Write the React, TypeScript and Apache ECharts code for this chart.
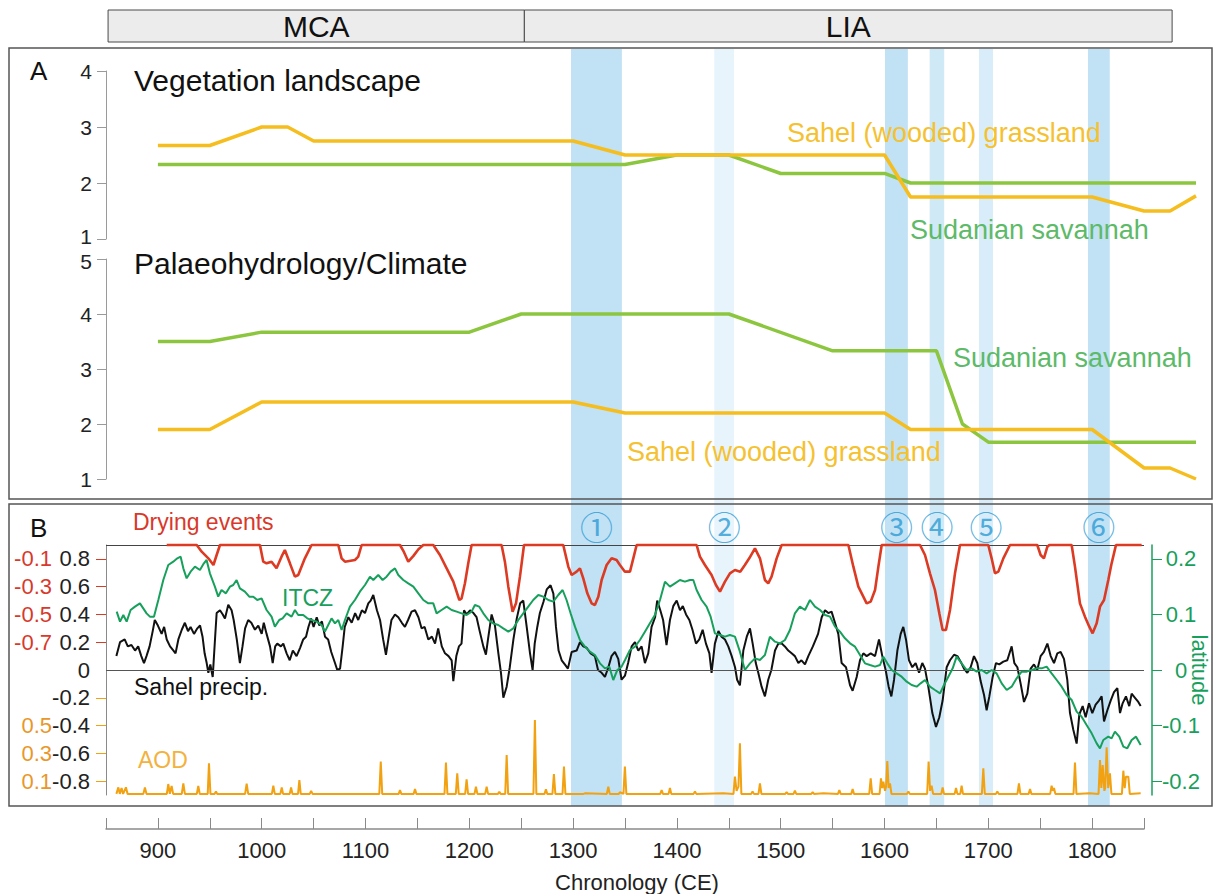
import React, { useEffect, useRef } from 'react';
import * as echarts from 'echarts';

const FONT = "'Liberation Sans', Arial, Helvetica, sans-serif";

// ---- Periods (header bar) ----
const periodNames = ['MCA', 'LIA'];
const periodStart = [852, 1253];
const periodEnd = [1253, 1877];

// ---- Highlighted drying bands ----
const bandStart = [1298, 1436, 1600.5, 1643.5, 1691, 1796];
const bandEnd = [1347, 1455, 1622.5, 1657.5, 1704.5, 1817];
const bandShade = ['dark', 'pale', 'dark', 'mid', 'light', 'dark'];
const bandLabels = ['①', '②', '③', '④', '⑤', '⑥'];

// ---- Axis ticks ----
const xTicks = [850, 900, 950, 1000, 1050, 1100, 1150, 1200, 1250, 1300, 1350, 1400, 1450, 1500, 1550, 1600, 1650, 1700, 1750, 1800, 1850];
const xLabels = [900, 1000, 1100, 1200, 1300, 1400, 1500, 1600, 1700, 1800];
const precipTicks = [-0.8, -0.6, -0.4, -0.2, 0, 0.2, 0.4, 0.6, 0.8];
const dryingTicks = [-0.1, -0.3, -0.5, -0.7];
const aodTicks = [0.1, 0.3, 0.5, 0.7];
const aodLabels = [0.1, 0.3, 0.5];
const latTicks = [-0.2, -0.1, 0, 0.1, 0.2];

// ---- Panel A: vegetation landscape ----
const vegSahel = [[900, 2.67], [950, 2.67], [1000, 3.0], [1025, 3.0], [1050, 2.75], [1300, 2.75], [1350, 2.5], [1600, 2.5], [1625, 1.75], [1800, 1.75], [1850, 1.5], [1875, 1.5], [1900, 1.77]];
const vegSudan = [[900, 2.33], [1350, 2.33], [1400, 2.5], [1450, 2.5], [1500, 2.17], [1600, 2.17], [1625, 2.0], [1900, 2.0]];

// ---- Panel A: palaeohydrology / climate ----
const palSudan = [[900, 3.5], [950, 3.5], [1000, 3.67], [1200, 3.67], [1250, 4.0], [1450, 4.0], [1550, 3.33], [1650, 3.33], [1675, 2.0], [1700, 1.67], [1900, 1.67]];
const palSahel = [[900, 1.9], [950, 1.9], [1000, 2.4], [1300, 2.4], [1350, 2.2], [1600, 2.2], [1625, 1.9], [1800, 1.9], [1850, 1.2], [1875, 1.2], [1900, 1.0]];

// ---- Panel B: Sahel precipitation ----
const precip = [
  [860, 0.10], [863.5, 0.20], [868, 0.22], [871, 0.17], [874.5, 0.18], [878, 0.14], [881, 0.17], [884, 0.10], [886.6, 0.05], [889, 0.10],
  [892, 0.17], [895, 0.28], [897, 0.36], [900, 0.32], [903.6, 0.26], [906, 0.31], [908.5, 0.22], [911.7, 0.17], [915, 0.14], [917, 0.12],
  [919.7, 0.22], [923, 0.29], [926, 0.34], [929, 0.28], [931.5, 0.31], [934.8, 0.26], [938, 0.30], [940.6, 0.32], [943, 0.24], [945, 0.12],
  [947, 0.05], [948.6, -0.02], [950.5, 0.04], [952.8, -0.05], [955, 0.22], [956.6, 0.41], [959.8, 0.43], [962.5, 0.40], [964.6, 0.37], [967.8, 0.47],
  [971, 0.43], [973, 0.36], [976, 0.22], [979, 0.05], [981.5, 0.17], [984, 0.30], [987, 0.36], [990, 0.34], [993.5, 0.29], [996.7, 0.32],
  [1000, 0.26], [1002, 0.34], [1004.7, 0.26], [1008, 0.17], [1010.6, 0.05], [1013, 0.17], [1015, 0.19], [1018.5, 0.17], [1020.8, 0.19], [1024, 0.12],
  [1027, 0.07], [1030, 0.14], [1033.6, 0.10], [1037, 0.16], [1040, 0.22], [1042.7, 0.24], [1045, 0.31], [1047.6, 0.37], [1050, 0.31], [1053, 0.38],
  [1055.5, 0.32], [1058, 0.35], [1061, 0.24], [1064, 0.22], [1067, 0.13], [1070.6, 0.05], [1072.8, 0], [1075.5, 0.01], [1078, 0.17], [1080, 0.31],
  [1083.5, 0.38], [1086.7, 0.34], [1090, 0.41], [1093, 0.36], [1096.5, 0.43], [1099.5, 0.41], [1102.7, 0.48], [1105, 0.50], [1107.5, 0.54], [1111, 0.43],
  [1114, 0.36], [1117, 0.22], [1119.7, 0.11], [1122, 0.22], [1125, 0.36], [1128.4, 0.40], [1131.6, 0.38], [1135, 0.34], [1138, 0.31], [1141, 0.36],
  [1144.4, 0.42], [1147.7, 0.43], [1151, 0.38], [1154, 0.30], [1157, 0.31], [1160.5, 0.22], [1164, 0.24], [1167, 0.19], [1170, 0.30], [1173.5, 0.17],
  [1176.6, 0.12], [1180, 0.10], [1183, 0.07], [1184.6, -0.08], [1187.5, 0.10], [1190, 0.17], [1192.5, 0.19], [1194.9, 0.43], [1197.5, 0.40], [1200.7, 0.43],
  [1204, 0.41], [1207, 0.38], [1210, 0.28], [1213.5, 0.17], [1216, 0.11], [1218, 0.22], [1221.5, 0.40], [1224.7, 0.32], [1228, 0.12], [1230.5, -0.02],
  [1232.8, -0.20], [1236, -0.12], [1239, 0.02], [1242.5, 0.22], [1245.7, 0.37], [1249, 0.48], [1252, 0.50], [1255.3, 0.31], [1258.5, 0.12], [1261, 0],
  [1263, 0.19], [1265.5, 0.31], [1268, 0.41], [1271.4, 0.49], [1274.6, 0.58], [1278.3, 0.61], [1281, 0.55], [1283.5, 0.31], [1286, 0.14], [1289, 0.07],
  [1292, 0.04], [1295, 0.01], [1298.6, 0.13], [1303.4, 0.14], [1306.6, 0.20], [1309.8, 0.17], [1313, 0.16], [1316.9, 0.12], [1321, 0.10], [1324, 0],
  [1327.5, -0.02], [1330.7, -0.05], [1334, 0.02], [1337, 0.10], [1340.3, 0.13], [1343.5, 0.08], [1346.7, -0.07], [1350, -0.04], [1353, 0.05], [1356.4, 0.17],
  [1359.6, 0.20], [1362.8, 0.14], [1366, 0.17], [1369.2, 0.05], [1372.4, 0.12], [1375.6, 0.31], [1379, 0.38], [1381, 0.50], [1384, 0.43], [1386.7, 0.36],
  [1390, 0.18], [1393.3, 0.36], [1396.5, 0.46], [1399.8, 0.50], [1403, 0.43], [1405.7, 0.46], [1408.8, 0.40], [1412, 0.36], [1415, 0.29], [1418.4, 0.19],
  [1421.6, 0.22], [1424.8, 0.29], [1428, 0.19], [1431.3, 0.12], [1433.4, -0.02], [1436.6, 0.19], [1440, 0.28], [1443, 0.24], [1446.3, 0.22], [1449.5, 0.17],
  [1452.8, 0.10], [1456, 0.02], [1458, -0.07], [1460.7, -0.11], [1464, 0.14], [1467.3, 0.24], [1470.4, 0.30], [1473, 0.19], [1476, 0.05], [1478.4, -0.02],
  [1481.6, -0.12], [1484.8, -0.19], [1488, -0.07], [1491, 0], [1494.5, 0.14], [1497.7, 0.19], [1501, 0.19], [1504, 0.17], [1507.3, 0.14], [1510.5, 0.12],
  [1513.7, 0.10], [1517, 0.05], [1520, 0.07], [1523.4, 0.04], [1526.6, 0.10], [1531, 0.17], [1536, 0.26], [1539.5, 0.38], [1542.7, 0.43], [1545.9, 0.41],
  [1549, 0.42], [1552.3, 0.34], [1555.5, 0.26], [1558.7, 0.05], [1562.9, 0.02], [1566.8, -0.11], [1569.3, -0.15], [1573.2, -0.05], [1576.4, 0.07], [1579.6, 0.12],
  [1582.8, 0.10], [1586.7, 0.12], [1590.9, 0.10], [1594.7, 0.22], [1597.9, 0.10], [1601.1, 0], [1604, -0.12], [1606.6, -0.19], [1609.2, -0.07], [1612.4, 0.14],
  [1615.6, 0.26], [1618.1, 0.31], [1620.7, 0.22], [1623.6, 0.07], [1626.8, 0.02], [1630, 0.05], [1633.3, -0.02], [1636.4, 0.05], [1639, 0.01], [1642.2, -0.12],
  [1646.1, -0.31], [1649.6, -0.41], [1652.8, -0.34], [1656, -0.22], [1659.9, 0.02], [1663.1, 0.07], [1667, 0.11], [1670.2, 0.10], [1673.4, 0.06], [1676.6, 0.01],
  [1679.8, -0.02], [1683, 0.02], [1686.2, 0.10], [1689.4, 0.05], [1692.6, -0.08], [1695.9, -0.18], [1698.4, -0.29], [1701, -0.19], [1704.2, -0.05], [1707.4, 0.05],
  [1710.6, 0.04], [1714.5, 0.06], [1718.3, 0.07], [1722.5, 0.17], [1725.1, 0.05], [1728, 0.02], [1731.2, -0.10], [1734.4, -0.23], [1737.6, -0.17], [1740.8, 0.01],
  [1744, 0.04], [1747.2, 0], [1750.4, 0.10], [1753.6, 0.13], [1756.9, 0.19], [1760.1, 0.10], [1763.3, 0.05], [1766.5, 0.12], [1769.7, 0.13], [1772.9, 0.08],
  [1776.1, -0.07], [1778.7, -0.31], [1781.9, -0.43], [1785.1, -0.53], [1787.7, -0.32], [1790.9, -0.26], [1793.8, -0.34], [1797, -0.24], [1800.2, -0.31], [1803.4, -0.25],
  [1806.6, -0.22], [1809.2, -0.19], [1811.5, -0.37], [1814.7, -0.29], [1817.9, -0.22], [1821.1, -0.16], [1824.3, -0.13], [1826.9, -0.31], [1829.4, -0.24], [1832.6, -0.19],
  [1835.8, -0.26], [1838.1, -0.17], [1841.3, -0.20], [1844.5, -0.23], [1846.8, -0.26]
];

// ---- Panel B: ITCZ latitude ----
const itcz = [
  [860.3, 0.105], [863.5, 0.087], [866.7, 0.099], [869.9, 0.087], [873.7, 0.108], [877.9, 0.114], [882.7, 0.12], [885.9, 0.111], [889.1, 0.102], [892.3, 0.096],
  [896.2, 0.096], [900.4, 0.126], [905.2, 0.162], [910, 0.189], [914.8, 0.195], [918.7, 0.201], [921.9, 0.204], [924.5, 0.183], [927.7, 0.165], [931.5, 0.177],
  [935.7, 0.186], [940.5, 0.18], [944.3, 0.192], [946.9, 0.198], [950.1, 0.174], [954.9, 0.15], [958.1, 0.132], [961.3, 0.144], [965.5, 0.138], [969.4, 0.15],
  [972.6, 0.153], [975.8, 0.162], [979, 0.147], [983.8, 0.141], [988, 0.132], [991.9, 0.132], [995.7, 0.126], [999.9, 0.129], [1004.7, 0.108], [1009.5, 0.096],
  [1012.7, 0.078], [1016.9, 0.09], [1020.1, 0.093], [1024, 0.102], [1028.8, 0.096], [1032, 0.108], [1035.2, 0.099], [1040, 0.099], [1043.9, 0.093], [1048, 0.09],
  [1052.9, 0.087], [1057.7, 0.081], [1060.9, 0.069], [1064.1, 0.081], [1067.3, 0.093], [1070.6, 0.084], [1073.8, 0.09], [1077, 0.072], [1080.2, 0.09], [1085, 0.114],
  [1089.8, 0.126], [1094.6, 0.141], [1099.5, 0.153], [1104.3, 0.168], [1107.5, 0.162], [1112.3, 0.171], [1116.5, 0.162], [1120.3, 0.168], [1124.2, 0.177], [1128.4, 0.183],
  [1131.6, 0.171], [1136.4, 0.162], [1141.2, 0.156], [1146.1, 0.15], [1150.9, 0.138], [1155.7, 0.126], [1160.5, 0.12], [1165.3, 0.12], [1168.5, 0.102], [1173.3, 0.108],
  [1178.2, 0.114], [1183, 0.108], [1187.8, 0.105], [1192.6, 0.102], [1197.4, 0.099], [1202.2, 0.105], [1205.4, 0.117], [1209.6, 0.114], [1213.5, 0.102], [1218.3, 0.09],
  [1223.1, 0.084], [1227.9, 0.081], [1232.7, 0.075], [1237.6, 0.069], [1242.4, 0.075], [1247.2, 0.09], [1252, 0.102], [1256.8, 0.114], [1261.6, 0.126], [1266.5, 0.135],
  [1271.3, 0.132], [1276.1, 0.126], [1280.9, 0.123], [1285.7, 0.135], [1289.9, 0.144], [1293.7, 0.126], [1297.6, 0.102], [1301.8, 0.078], [1306.6, 0.054], [1311.4, 0.042],
  [1316.2, 0.033], [1321, 0.027], [1325.9, 0.012], [1330.7, 0.003], [1334.9, 0.006], [1338.7, -0.018], [1342.6, 0], [1346.7, 0.006], [1350, 0.018], [1354.8, 0.036],
  [1359.6, 0.042], [1364.4, 0.054], [1369.2, 0.069], [1374, 0.084], [1378.8, 0.099], [1383.7, 0.126], [1388.5, 0.159], [1393.3, 0.15], [1398.1, 0.156], [1402.9, 0.162],
  [1407.7, 0.159], [1412.6, 0.162], [1415.8, 0.162], [1419, 0.144], [1423.8, 0.126], [1428.6, 0.114], [1432.5, 0.096], [1436.6, 0.066], [1441.5, 0.063], [1446.3, 0.06],
  [1451.1, 0.063], [1455.9, 0.06], [1460.7, 0.033], [1465.5, 0], [1470.4, 0.012], [1475.2, 0.021], [1480, 0.018], [1484.8, 0.027], [1489.6, 0.06], [1494.5, 0.051],
  [1499.3, 0.048], [1504.1, 0.054], [1508.9, 0.072], [1513.7, 0.102], [1518.5, 0.114], [1523.4, 0.108], [1528.2, 0.126], [1533, 0.114], [1537.9, 0.108], [1542.7, 0.099],
  [1547.5, 0.096], [1552.3, 0.078], [1557.1, 0.069], [1561.9, 0.057], [1566.8, 0.048], [1571.6, 0.042], [1576.4, 0.027], [1581.2, 0.012], [1586, 0.009], [1590.9, 0.006],
  [1595.7, 0.009], [1598.9, 0.024], [1602.7, 0.012], [1606.9, 0], [1611.7, -0.006], [1616.5, -0.012], [1621.4, -0.021], [1626.2, -0.027], [1631, -0.03], [1634.8, -0.024],
  [1639, -0.018], [1643.8, -0.03], [1648.6, -0.036], [1653.5, -0.042], [1657.3, -0.027], [1661.5, -0.012], [1665.7, 0.003], [1669.5, 0.024], [1674.3, 0.012], [1679.1, 0],
  [1684, 0.003], [1688.8, -0.003], [1693.6, 0], [1698.4, -0.006], [1703.2, 0], [1708, -0.006], [1712.9, -0.024], [1717.7, -0.036], [1722.5, -0.03], [1727.3, -0.015],
  [1732.1, -0.003], [1737, -0.003], [1741.8, 0], [1746.6, 0.003], [1751.4, 0.003], [1756.2, 0.006], [1761, -0.006], [1765.9, -0.018], [1770.7, -0.03], [1775.5, -0.045],
  [1780.3, -0.054], [1785.1, -0.075], [1789.9, -0.084], [1794.7, -0.099], [1799.6, -0.114], [1804.4, -0.132], [1807.6, -0.141], [1810.8, -0.126], [1815.6, -0.12], [1818.8, -0.123],
  [1822, -0.111], [1826.2, -0.12], [1830.1, -0.138], [1833.9, -0.141], [1838.1, -0.126], [1842.3, -0.12], [1846.8, -0.135]
];

// ---- Panel B: drying events ----
const drying = [
  [908.5, 0], [937.4, 0], [942.2, -0.048], [948.6, -0.096], [953.5, -0.144], [956.6, -0.072], [959.8, 0], [998.3, 0], [1001.5, -0.12], [1004.7, -0.132],
  [1009.5, -0.12], [1014.3, -0.168], [1019.1, -0.084], [1022.3, -0.036], [1027.2, -0.132], [1032, -0.228], [1035.2, -0.216], [1041.6, -0.096], [1048, 0], [1073.8, 0],
  [1077, -0.096], [1080.2, -0.12], [1089.8, -0.108], [1093, -0.084], [1096.3, 0], [1133.2, 0], [1137, -0.05], [1141.2, -0.12], [1146, -0.08], [1151, -0.03],
  [1155.7, 0], [1165.3, 0], [1171.7, -0.072], [1178.2, -0.168], [1184.6, -0.264], [1190.4, -0.396], [1192.6, -0.384], [1195.8, -0.276], [1199, -0.132], [1202.2, 0],
  [1231.1, 0], [1234.3, -0.12], [1237.6, -0.3], [1241.7, -0.48], [1245, -0.42], [1248.8, -0.228], [1252.7, 0], [1290.5, 0], [1295.4, -0.156], [1298.6, -0.216],
  [1303.4, -0.192], [1306.6, -0.168], [1309.8, -0.24], [1313.7, -0.348], [1317.8, -0.42], [1321, -0.432], [1324.3, -0.372], [1327.5, -0.252], [1332.3, -0.144], [1337.1, -0.096],
  [1341.9, -0.108], [1345.1, -0.144], [1349.9, -0.192], [1354.8, -0.192], [1358, -0.096], [1361.2, 0], [1419, 0], [1422.2, -0.084], [1427, -0.144], [1433.4, -0.216],
  [1437.6, -0.288], [1441.5, -0.336], [1446.3, -0.264], [1451.1, -0.204], [1455.9, -0.18], [1461, -0.192], [1465.5, -0.144], [1469.7, -0.096], [1475.2, -0.024], [1480, -0.096],
  [1484.8, -0.252], [1488, -0.276], [1491.2, -0.228], [1496.1, -0.096], [1500.9, 0], [1565.2, 0], [1570, -0.156], [1574.8, -0.3], [1579.6, -0.372], [1582.8, -0.42],
  [1586.7, -0.408], [1590.9, -0.324], [1594.1, -0.156], [1597.3, 0], [1634.2, 0], [1639, -0.072], [1643.8, -0.204], [1648.6, -0.324], [1652.8, -0.492], [1656, -0.612],
  [1659.2, -0.612], [1663.1, -0.468], [1667.9, -0.204], [1672.7, 0], [1700, 0], [1703.2, -0.096], [1706.4, -0.204], [1709.7, -0.192], [1714.5, -0.096], [1720.9, 0],
  [1747.2, 0], [1750.4, -0.072], [1753.6, -0.096], [1756.9, -0.012], [1758.8, 0], [1780.3, 0], [1783.5, -0.156], [1788.3, -0.42], [1793.1, -0.516], [1797.3, -0.588],
  [1800.5, -0.636], [1804.4, -0.564], [1807.6, -0.444], [1811.5, -0.396], [1815.6, -0.252], [1818.8, -0.132], [1823, 0], [1847.7, 0]
];

// ---- Panel B: aerosol optical depth ----
const aod = [
  [860, 0.008], [861.9, 0.055], [863.3, 0.008], [865, 0.05], [866.5, 0.008], [869.2, 0.055], [870.8, 0.008], [886, 0.008], [887.5, 0.055], [889, 0.008],
  [908.6, 0.008], [910, 0.079], [911.5, 0.008], [913.2, 0.065], [914.7, 0.008], [923, 0.008], [924.5, 0.084], [926, 0.008], [937.5, 0.008], [938.9, 0.065],
  [940.3, 0.008], [948, 0.008], [949.2, 0.228], [950.6, 0.008], [954.6, 0.008], [955.9, 0.025], [957.2, 0.008], [984, 0.008], [985.5, 0.082], [987, 0.008],
  [1009.8, 0.008], [1011.2, 0.067], [1012.6, 0.008], [1018, 0.008], [1019.3, 0.055], [1020.6, 0.008], [1027, 0.008], [1028.3, 0.055], [1029.6, 0.008], [1035, 0.008],
  [1036.3, 0.108], [1037.6, 0.008], [1046.3, 0.008], [1047.6, 0.03], [1049, 0.008], [1113.3, 0.008], [1114.7, 0.24], [1116.1, 0.008], [1132, 0.008], [1133.2, 0.036],
  [1134.5, 0.008], [1146.4, 0.008], [1147.7, 0.043], [1149, 0.008], [1176.1, 0.008], [1177.5, 0.233], [1178.9, 0.008], [1187, 0.008], [1188.4, 0.156], [1189.8, 0.008],
  [1196, 0.008], [1197.4, 0.113], [1198.8, 0.008], [1205, 0.008], [1206.4, 0.06], [1207.8, 0.008], [1215.3, 0.008], [1216.7, 0.06], [1218.1, 0.008], [1227.6, 0.008],
  [1228.9, 0.024], [1230.2, 0.008], [1234.6, 0.008], [1236, 0.288], [1237.4, 0.008], [1261.8, 0.008], [1263.2, 0.54], [1264.6, 0.008], [1272.5, 0.008], [1273.8, 0.041],
  [1275.1, 0.008], [1280.1, 0.008], [1281.5, 0.151], [1282.9, 0.008], [1289.8, 0.008], [1291.2, 0.204], [1292.6, 0.008], [1310, 0.008], [1311.4, 0.012], [1332.5, 0.008],
  [1333.9, 0.06], [1335.3, 0.008], [1344, 0.008], [1345.1, 0.02], [1348.5, 0.008], [1349.9, 0.204], [1351.3, 0.008], [1384, 0.008], [1385.3, 0.036], [1386.6, 0.008],
  [1392, 0.008], [1393.3, 0.05], [1394.6, 0.008], [1416.1, 0.008], [1417.4, 0.026], [1418.7, 0.008], [1444.7, 0.012], [1454.5, 0.008], [1455.9, 0.132], [1457.5, 0.03],
  [1459.3, 0.06], [1460.7, 0.372], [1462.1, 0.008], [1471.6, 0.008], [1472.9, 0.026], [1474.2, 0.008], [1478.6, 0.008], [1480, 0.084], [1481.4, 0.008], [1504.4, 0.008],
  [1505.7, 0.02], [1507, 0.008], [1512.4, 0.008], [1513.7, 0.031], [1515, 0.008], [1529.5, 0.008], [1530.8, 0.02], [1532.1, 0.008], [1541, 0.012], [1555.2, 0.008],
  [1556.5, 0.036], [1557.8, 0.008], [1568, 0.008], [1569.3, 0.043], [1570.6, 0.008], [1585.3, 0.008], [1586.7, 0.12], [1588.1, 0.008], [1595.3, 0.008], [1596.6, 0.12],
  [1597.8, 0.05], [1598.9, 0.096], [1600.5, 0.03], [1601.5, 0.06], [1602.7, 0.245], [1604, 0.05], [1605.3, 0.084], [1606.7, 0.008], [1621.7, 0.008], [1623, 0.026],
  [1624.3, 0.008], [1641.1, 0.008], [1642.5, 0.24], [1643.9, 0.03], [1645.4, 0.067], [1646.8, 0.008], [1654.7, 0.008], [1656, 0.055], [1657.3, 0.008], [1667.6, 0.008],
  [1668.9, 0.05], [1670.2, 0.008], [1673, 0.008], [1674.3, 0.067], [1675.6, 0.008], [1693.8, 0.008], [1695.2, 0.192], [1696.6, 0.008], [1707.4, 0.008], [1708.7, 0.026],
  [1710, 0.008], [1728.1, 0.008], [1729.5, 0.084], [1730.9, 0.008], [1738.9, 0.008], [1740.2, 0.043], [1741.5, 0.008], [1759.6, 0.008], [1761, 0.067], [1762.2, 0.03],
  [1763.3, 0.05], [1764.6, 0.008], [1782.1, 0.008], [1783.5, 0.233], [1784.9, 0.008], [1797.4, 0.012], [1806.2, 0.008], [1807.6, 0.252], [1808.9, 0.05], [1810.2, 0.216],
  [1811.8, 0.03], [1812.6, 0.05], [1814, 0.343], [1815.5, 0.05], [1817.2, 0.156], [1818.6, 0.008], [1828.7, 0.008], [1830.1, 0.175], [1831.4, 0.05], [1832.6, 0.132],
  [1834.9, 0.132], [1836.3, 0.008], [1846.8, 0.012]
];

// ---- styles ----
const SHADE_COLORS: Record<string, string> = { dark: '#c1e1f4', mid: '#d0e9f7', light: '#d8edf9', pale: '#e8f4fc' };
const YELLOW = '#f5bd1e';
const YELLOW_TEXT = '#f5c131';
const GREEN_A = '#8cc63f';
const GREEN_TEXT = '#5dba68';
const ITCZ_C = '#17a05c';
const RED = '#dc3a22';
const RED_TEXT = '#d8392b';
const AOD_C = '#f2a110';
const AOD_TEXT = '#f3b23e';
const AOD_AXIS = '#e9972a';
const BLUE = '#2a9bd4';
const NUM_LEVEL = 0.37;

function txt(text: string, x: number, y: number, size: number, color: string, extra: any = {}) {
  return {
    type: 'text', x, y, z: 20,
    style: { text, fill: color, fontSize: size, fontFamily: FONT, verticalAlign: 'middle', align: 'left', ...extra },
  };
}

export default function App() {
  const ref = useRef<HTMLDivElement>(null);
  useEffect(() => {
    if (!ref.current) return;
    const chart = echarts.init(ref.current, null, { renderer: 'svg' });

    const gridBase = { outerBoundsMode: 'none', containLabel: false };
    const hiddenX = (gi: number, max: number) => ({ type: 'value', gridIndex: gi, min: 850, max, show: false });
    const hiddenY = (gi: number) => ({ type: 'value', gridIndex: gi, min: 0, max: 1, show: false });
    // edge: value whose label is nudged away from the neighbouring panel; shift: 'up' | 'down'
    const aAxis = (gi: number, max: number, edge: number, shift: string) => ({
      type: 'value', gridIndex: gi, min: 1, max, interval: 1, position: 'left',
      axisLine: { show: true, onZero: false, lineStyle: { color: '#9a9a9a', width: 1 } },
      axisTick: { show: true, length: 9, lineStyle: { color: '#9a9a9a' } },
      axisLabel: {
        color: '#222', fontSize: 21, lineHeight: 16, fontFamily: FONT, margin: 14,
        formatter: (v: number) => (v === edge ? `{e|${v}}` : String(v)),
        rich: {
          e: {
            color: '#222', fontSize: 21, lineHeight: 16, fontFamily: FONT,
            padding: shift === 'up' ? [0, 0, 6, 0] : [4, 0, 0, 0],
          },
        },
      },
      splitLine: { show: false },
    });

    const option: any = {
      animation: false,
      backgroundColor: '#ffffff',
      grid: [
        { ...gridBase, left: 106, right: 18, top: 10, height: 32 },
        { ...gridBase, left: 106, right: 70, top: 49, height: 757 },
        { ...gridBase, left: 106, right: 18, top: 71, height: 168 },
        { ...gridBase, left: 106, right: 18, top: 259, height: 220 },
        { ...gridBase, left: 106, right: 70, top: 545, height: 250 },
      ],
      xAxis: [
        hiddenX(0, 1900),
        hiddenX(1, 1850),
        hiddenX(2, 1900),
        hiddenX(3, 1900),
        {
          type: 'value', gridIndex: 4, min: 850, max: 1850, interval: 50, position: 'bottom', offset: 34,
          name: 'Chronology (CE)', nameLocation: 'middle', nameGap: 42,
          nameTextStyle: { color: '#222', fontSize: 22, fontFamily: FONT, padding: [0, 0, 0, 24] },
          axisLine: { show: true, onZero: false, lineStyle: { color: '#8a8a8a', width: 1.5 } },
          axisTick: { show: true, inside: true, length: 11, customValues: xTicks, lineStyle: { color: '#8a8a8a' } },
          axisLabel: { color: '#222', fontSize: 22, fontFamily: FONT, margin: 10, customValues: xLabels, formatter: (v: number) => String(v) },
          splitLine: { show: false },
        },
      ],
      yAxis: [
        hiddenY(0),
        hiddenY(1),
        aAxis(2, 4, 1, 'up'),
        aAxis(3, 5, 5, 'down'),
        {
          type: 'value', gridIndex: 4, min: -0.9, max: 0.9, position: 'left',
          axisLine: { show: true, onZero: false, lineStyle: { color: '#8a8a8a', width: 1 } },
          axisTick: { show: false },
          axisLabel: { color: '#222', fontSize: 22, fontFamily: FONT, margin: 16, customValues: precipTicks },
          splitLine: { show: false },
        },
        {
          type: 'value', gridIndex: 4, min: -1.8, max: 0, position: 'left',
          axisLine: { show: false, onZero: false },
          axisTick: { show: true, length: 10, customValues: dryingTicks, lineStyle: { color: RED } },
          axisLabel: { color: RED_TEXT, fontSize: 22, fontFamily: FONT, margin: 54, customValues: dryingTicks },
          splitLine: { show: false },
        },
        {
          type: 'value', gridIndex: 4, min: 0, max: 1.8, position: 'left',
          axisLine: { show: false, onZero: false },
          axisTick: { show: true, length: 10, customValues: aodTicks, lineStyle: { color: AOD_C } },
          axisLabel: { color: AOD_AXIS, fontSize: 22, fontFamily: FONT, margin: 54, customValues: aodLabels },
          splitLine: { show: false },
        },
        {
          type: 'value', gridIndex: 4, min: -0.225, max: 0.225, position: 'right', offset: 8,
          name: 'latitude', nameLocation: 'middle', nameRotate: -90, nameGap: 36, nameMoveOverlap: false,
          nameTextStyle: { color: ITCZ_C, fontSize: 22, fontFamily: FONT },
          axisLine: { show: true, onZero: false, lineStyle: { color: ITCZ_C, width: 1.5 } },
          axisTick: { show: true, length: 10, customValues: latTicks, lineStyle: { color: ITCZ_C } },
          axisLabel: { color: ITCZ_C, fontSize: 22, fontFamily: FONT, margin: 29, align: 'center', customValues: latTicks },
          splitLine: { show: false },
        },
      ],
      series: [
        {
          type: 'line', xAxisIndex: 0, yAxisIndex: 0, data: [], silent: true,
          markArea: {
            silent: true,
            label: { show: true, position: 'inside', color: '#111', fontSize: 30, fontFamily: FONT },
            itemStyle: { color: '#ececec', borderColor: '#4a4a4a', borderWidth: 1 },
            data: periodNames.map((n, i) => [{ name: n, xAxis: periodStart[i], yAxis: 0 }, { xAxis: periodEnd[i], yAxis: 1 }]),
          },
        },
        {
          type: 'line', xAxisIndex: 1, yAxisIndex: 1, data: [], silent: true, z: 1,
          markArea: {
            silent: true,
            label: { show: false },
            data: bandStart.map((s, i) => [
              { xAxis: s, yAxis: 0, itemStyle: { color: SHADE_COLORS[bandShade[i]] } },
              { xAxis: bandEnd[i], yAxis: 1 },
            ]),
          },
        },
        {
          type: 'scatter', xAxisIndex: 1, yAxisIndex: 1, silent: true, z: 6,
          symbolSize: 1, itemStyle: { color: 'rgba(0,0,0,0)' },
          label: { show: true, position: 'inside', formatter: '{b}', color: BLUE, fontSize: 33, fontFamily: "'Noto Sans CJK SC', 'DejaVu Sans', sans-serif" },
          data: bandStart.map((s, i) => ({ name: bandLabels[i], value: [(s + bandEnd[i]) / 2, NUM_LEVEL] })),
        },
        { type: 'line', xAxisIndex: 2, yAxisIndex: 2, data: vegSudan, symbol: 'none', lineStyle: { color: GREEN_A, width: 3.5 }, z: 3 },
        { type: 'line', xAxisIndex: 2, yAxisIndex: 2, data: vegSahel, symbol: 'none', lineStyle: { color: YELLOW, width: 3.5 }, z: 4 },
        { type: 'line', xAxisIndex: 3, yAxisIndex: 3, data: palSudan, symbol: 'none', lineStyle: { color: GREEN_A, width: 3.5 }, z: 3 },
        { type: 'line', xAxisIndex: 3, yAxisIndex: 3, data: palSahel, symbol: 'none', lineStyle: { color: YELLOW, width: 3.5 }, z: 4 },
        { type: 'line', xAxisIndex: 4, yAxisIndex: 6, data: aod, symbol: 'none', clip: false, lineStyle: { color: AOD_C, width: 2 }, z: 3 },
        {
          type: 'line', xAxisIndex: 4, yAxisIndex: 4, data: precip, symbol: 'none', clip: false, lineStyle: { color: '#111', width: 2 }, z: 4,
          markLine: { silent: true, symbol: 'none', label: { show: false }, lineStyle: { color: '#555', width: 1, type: 'solid' }, data: [{ yAxis: 0 }] },
        },
        { type: 'line', xAxisIndex: 4, yAxisIndex: 7, data: itcz, symbol: 'none', clip: false, lineStyle: { color: ITCZ_C, width: 2 }, z: 5 },
        {
          type: 'line', xAxisIndex: 4, yAxisIndex: 5, data: drying, symbol: 'none', clip: false, lineStyle: { color: RED, width: 2.6 }, z: 6,
          markLine: { silent: true, symbol: 'none', label: { show: false }, lineStyle: { color: '#444', width: 1, type: 'solid' }, data: [{ yAxis: 0 }] },
        },
      ],
      graphic: [
        { type: 'rect', z: 15, shape: { x: 9, y: 48, width: 1203, height: 451 }, style: { fill: 'none', stroke: '#555', lineWidth: 1.5 } },
        { type: 'rect', z: 15, shape: { x: 9, y: 504, width: 1203, height: 302 }, style: { fill: 'none', stroke: '#555', lineWidth: 1.5 } },
        txt('A', 30, 71, 26, '#111'),
        txt('Vegetation landscape', 134, 80.5, 30, '#111'),
        txt('Palaeohydrology/Climate', 134, 263, 30, '#111'),
        txt('Sahel (wooded) grassland', 787, 133, 27, YELLOW_TEXT),
        txt('Sudanian savannah', 910, 229.5, 27, GREEN_TEXT),
        txt('Sudanian savannah', 953, 358, 27, GREEN_TEXT),
        txt('Sahel (wooded) grassland', 627, 452, 27, YELLOW_TEXT),
        txt('B', 30, 528, 26, '#111'),
        txt('Drying events', 133, 522, 23, RED_TEXT),
        txt('ITCZ', 282, 598, 23, ITCZ_C),
        txt('Sahel precip.', 134, 687, 23, '#111'),
        txt('AOD', 138, 760, 23, AOD_TEXT),
      ],
    };
    chart.setOption(option);
    return () => chart.dispose();
  }, []);
  return <div ref={ref} style={{ position: 'fixed', left: 0, top: 0, width: 1214, height: 894, background: '#fff' }} />;
}
